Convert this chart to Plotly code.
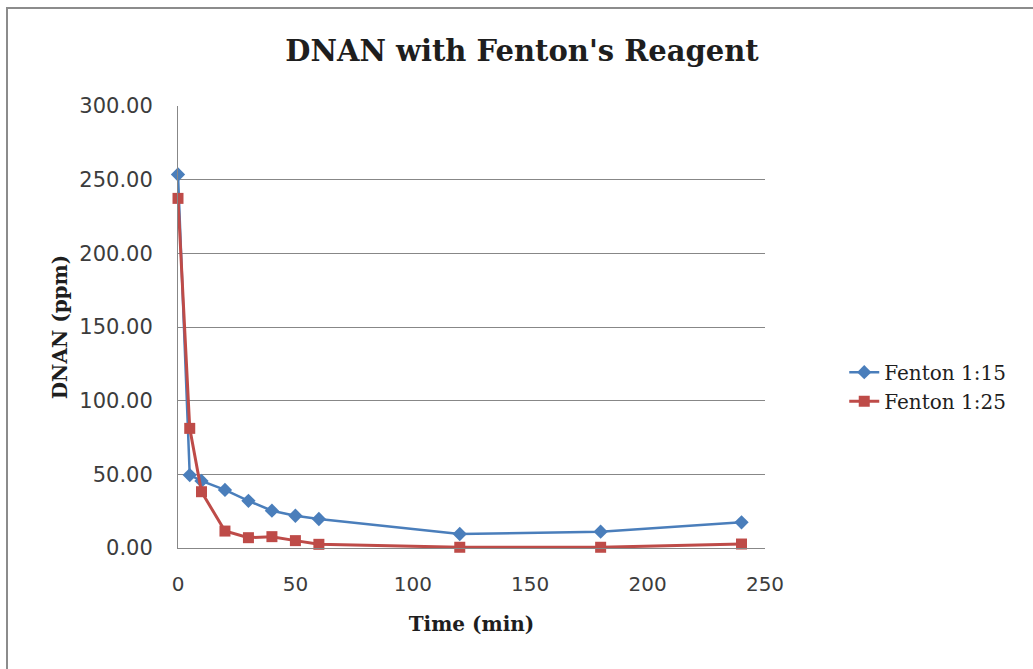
import plotly.graph_objects as go

# Sampling times (min) and measured DNAN concentration (ppm)
time_min = [0, 5, 10, 20, 30, 40, 50, 60, 120, 180, 240]
fenton_1_15 = [253.5, 49.5, 45.5, 39.4, 32.0, 25.3, 21.9, 19.7, 9.5, 11.1, 17.4]
fenton_1_25 = [237.3, 81.2, 38.2, 11.5, 7.0, 7.7, 5.0, 2.5, 0.5, 0.5, 2.7]

series_names = ["Fenton 1:15", "Fenton 1:25"]
x_ticks = [0, 50, 100, 150, 200, 250]
y_ticks = [0, 50, 100, 150, 200, 250, 300]

BLUE = "#4a7ebb"
RED = "#be4b48"
GRID = "#878787"
SERIF = "DejaVu Serif, Liberation Serif, serif"
SANS = "DejaVu Sans, Verdana, sans-serif"

fig = go.Figure()
fig.add_trace(go.Scatter(
    x=time_min, y=fenton_1_15, name=series_names[0], mode="lines+markers",
    line=dict(color=BLUE, width=2.5),
    marker=dict(symbol="diamond", size=11, color=BLUE),
    cliponaxis=False,
))
fig.add_trace(go.Scatter(
    x=time_min, y=fenton_1_25, name=series_names[1], mode="lines+markers",
    line=dict(color=RED, width=3),
    marker=dict(symbol="square", size=11, color=RED),
    cliponaxis=False,
))

fig.update_layout(
    width=1033, height=669, autosize=False,
    margin=dict(l=178, r=268, t=106, b=121),
    paper_bgcolor="white", plot_bgcolor="white",
    title=dict(
        text="<b>DNAN with Fenton's Reagent</b>",
        font=dict(family=SERIF, size=29, color="#1e1e1e"),
        x=522 / 1033, xanchor="center", xref="container",
        y=1 - 51 / 669, yanchor="middle", yref="container",
    ),
    legend=dict(
        x=1.135, xanchor="left", y=0.365, yanchor="middle",
        font=dict(family=SERIF, size=20, color="#1e1e1e"),
        bgcolor="rgba(0,0,0,0)", tracegroupgap=0,
    ),
    xaxis=dict(
        range=[0, 250], tickvals=x_ticks, ticktext=[str(v) for v in x_ticks],
        showgrid=False, zeroline=False,
        showline=True, linecolor=GRID, linewidth=1,
        ticks="outside", ticklen=18, tickcolor="rgba(0,0,0,0)",
        tickfont=dict(family=SANS, size=20, color="#3c3c3c"),
        title=dict(text="<b>Time (min)</b>", font=dict(family=SERIF, size=20, color="#1e1e1e"),
                   standoff=21),
    ),
    yaxis=dict(
        range=[0, 300], tickvals=y_ticks, tickformat=".2f",
        showgrid=True, gridcolor=GRID, gridwidth=1, zeroline=False,
        showline=True, linecolor=GRID, linewidth=1,
        ticks="outside", ticklen=20, tickcolor="rgba(0,0,0,0)",
        tickfont=dict(family=SANS, size=21, color="#3c3c3c"),
        title=dict(text="<b>DNAN (ppm)</b>", font=dict(family=SERIF, size=20, color="#1e1e1e"),
                   standoff=6),
    ),
)

# Chart frame (open to the right and bottom edges of the page)
fig.add_shape(
    type="rect", xref="paper", yref="paper",
    x0=(7 - 178) / 587, x1=(1045 - 178) / 587,
    y0=(548 - 690) / 442, y1=(548 - 8) / 442,
    line=dict(color="#8c8c8c", width=2), fillcolor="rgba(0,0,0,0)", layer="below",
)

fig.write_html("out.html")
